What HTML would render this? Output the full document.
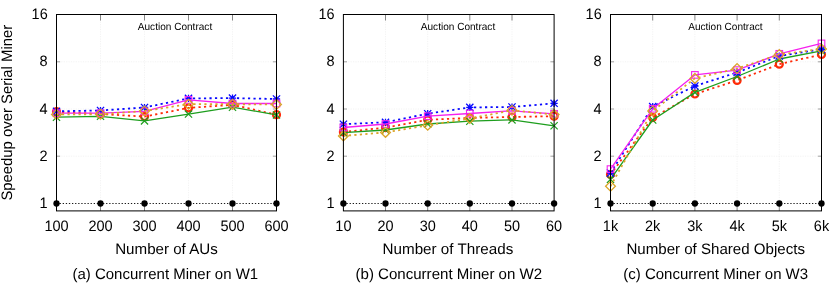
<!DOCTYPE html>
<html><head><meta charset="utf-8"><title>Speedup</title>
<style>
html,body{margin:0;padding:0;background:#fff;}
body{width:830px;height:283px;overflow:hidden;}
svg{display:block;will-change:transform;}
text{text-rendering:geometricPrecision;-webkit-font-smoothing:antialiased;font-family:"Liberation Sans",sans-serif;fill:#000;}
.t{font-size:15.1px;}
.s{font-size:10.3px;}
</style></head><body>
<svg width="830" height="283" viewBox="0 0 830 283">
<rect width="830" height="283" fill="#fff"/>
<text class="t" transform="translate(12.0,112.7) rotate(-90)" text-anchor="middle" textLength="175.7" lengthAdjust="spacingAndGlyphs">Speedup over Serial Miner</text>
<g>
<line x1="100.5" y1="14.5" x2="100.5" y2="210.9" stroke="#f2f2f2" stroke-width="0.9" stroke-dasharray="1.2 1.2"/>
<line x1="144.5" y1="14.5" x2="144.5" y2="210.9" stroke="#f2f2f2" stroke-width="0.9" stroke-dasharray="1.2 1.2"/>
<line x1="188.5" y1="14.5" x2="188.5" y2="210.9" stroke="#f2f2f2" stroke-width="0.9" stroke-dasharray="1.2 1.2"/>
<line x1="232.5" y1="14.5" x2="232.5" y2="210.9" stroke="#f2f2f2" stroke-width="0.9" stroke-dasharray="1.2 1.2"/>
<line x1="56.5" y1="156.2" x2="276.5" y2="156.2" stroke="#f2f2f2" stroke-width="0.9" stroke-dasharray="1.2 1.2"/>
<line x1="56.5" y1="109.0" x2="276.5" y2="109.0" stroke="#f2f2f2" stroke-width="0.9" stroke-dasharray="1.2 1.2"/>
<line x1="56.5" y1="61.8" x2="276.5" y2="61.8" stroke="#f2f2f2" stroke-width="0.9" stroke-dasharray="1.2 1.2"/>
<path d="M100.5 14.5v6M100.5 210.9v-6" stroke="#555" stroke-width="0.7"/>
<path d="M144.5 14.5v6M144.5 210.9v-6" stroke="#555" stroke-width="0.7"/>
<path d="M188.5 14.5v6M188.5 210.9v-6" stroke="#555" stroke-width="0.7"/>
<path d="M232.5 14.5v6M232.5 210.9v-6" stroke="#555" stroke-width="0.7"/>
<path d="M56.5 203.5h3.6M276.5 203.5h-3.6" stroke="#8a8a8a" stroke-width="0.8"/>
<path d="M56.5 156.2h3.6M276.5 156.2h-3.6" stroke="#8a8a8a" stroke-width="0.8"/>
<path d="M56.5 109.0h3.6M276.5 109.0h-3.6" stroke="#8a8a8a" stroke-width="0.8"/>
<path d="M56.5 61.8h3.6M276.5 61.8h-3.6" stroke="#8a8a8a" stroke-width="0.8"/>
<line x1="56.5" y1="203.5" x2="276.5" y2="203.5" stroke="#1a1a1a" stroke-width="1" stroke-dasharray="1.3 1.8"/>
<polyline points="56.5,111.7 100.5,114.0 144.5,116.6 188.5,107.9 232.5,104.8 276.5,114.7" fill="none" stroke="#ff2a08" stroke-width="1.8" stroke-dasharray="2.2 3.3"/>
<circle cx="56.5" cy="111.7" r="3.5" stroke="#ff2a08" stroke-width="2.2" fill="none"/>
<circle cx="100.5" cy="114.0" r="3.5" stroke="#ff2a08" stroke-width="2.2" fill="none"/>
<circle cx="144.5" cy="116.6" r="3.5" stroke="#ff2a08" stroke-width="2.2" fill="none"/>
<circle cx="188.5" cy="107.9" r="3.5" stroke="#ff2a08" stroke-width="2.2" fill="none"/>
<circle cx="232.5" cy="104.8" r="3.5" stroke="#ff2a08" stroke-width="2.2" fill="none"/>
<circle cx="276.5" cy="114.7" r="3.5" stroke="#ff2a08" stroke-width="2.2" fill="none"/>
<polyline points="56.5,117.2 100.5,116.3 144.5,120.9 188.5,114.1 232.5,107.2 276.5,114.9" fill="none" stroke="#1e9e1e" stroke-width="1.3" stroke-linejoin="round"/>
<path d="M52.9 113.6L60.1 120.8M52.9 120.8L60.1 113.6" stroke="#1e9e1e" stroke-width="1.2" fill="none"/>
<path d="M96.9 112.7L104.1 119.9M96.9 119.9L104.1 112.7" stroke="#1e9e1e" stroke-width="1.2" fill="none"/>
<path d="M140.9 117.3L148.1 124.5M140.9 124.5L148.1 117.3" stroke="#1e9e1e" stroke-width="1.2" fill="none"/>
<path d="M184.9 110.5L192.1 117.7M184.9 117.7L192.1 110.5" stroke="#1e9e1e" stroke-width="1.2" fill="none"/>
<path d="M228.9 103.6L236.1 110.8M228.9 110.8L236.1 103.6" stroke="#1e9e1e" stroke-width="1.2" fill="none"/>
<path d="M272.9 111.3L280.1 118.5M272.9 118.5L280.1 111.3" stroke="#1e9e1e" stroke-width="1.2" fill="none"/>
<polyline points="56.5,111.3 100.5,110.5 144.5,107.5 188.5,98.4 232.5,98.1 276.5,99.0" fill="none" stroke="#0808ff" stroke-width="1.8" stroke-dasharray="2.2 3.3"/>
<path d="M52.9 107.7L60.1 114.9M52.9 114.9L60.1 107.7M56.5 107.7L56.5 114.9M52.9 111.3L60.1 111.3" stroke="#0808ff" stroke-width="1.3" fill="none"/>
<path d="M96.9 106.9L104.1 114.1M96.9 114.1L104.1 106.9M100.5 106.9L100.5 114.1M96.9 110.5L104.1 110.5" stroke="#0808ff" stroke-width="1.3" fill="none"/>
<path d="M140.9 103.9L148.1 111.1M140.9 111.1L148.1 103.9M144.5 103.9L144.5 111.1M140.9 107.5L148.1 107.5" stroke="#0808ff" stroke-width="1.3" fill="none"/>
<path d="M184.9 94.8L192.1 102.0M184.9 102.0L192.1 94.8M188.5 94.8L188.5 102.0M184.9 98.4L192.1 98.4" stroke="#0808ff" stroke-width="1.3" fill="none"/>
<path d="M228.9 94.5L236.1 101.7M228.9 101.7L236.1 94.5M232.5 94.5L232.5 101.7M228.9 98.1L236.1 98.1" stroke="#0808ff" stroke-width="1.3" fill="none"/>
<path d="M272.9 95.4L280.1 102.6M272.9 102.6L280.1 95.4M276.5 95.4L276.5 102.6M272.9 99.0L280.1 99.0" stroke="#0808ff" stroke-width="1.3" fill="none"/>
<polyline points="56.5,113.2 100.5,113.2 144.5,111.3 188.5,99.9 232.5,103.5 276.5,103.5" fill="none" stroke="#f620ee" stroke-width="1.3" stroke-linejoin="round"/>
<rect x="53.2" y="109.9" width="6.6" height="6.6" stroke="#f620ee" stroke-width="1.1" fill="none"/>
<rect x="97.2" y="109.9" width="6.6" height="6.6" stroke="#f620ee" stroke-width="1.1" fill="none"/>
<rect x="141.2" y="108.0" width="6.6" height="6.6" stroke="#f620ee" stroke-width="1.1" fill="none"/>
<rect x="185.2" y="96.6" width="6.6" height="6.6" stroke="#f620ee" stroke-width="1.1" fill="none"/>
<rect x="229.2" y="100.2" width="6.6" height="6.6" stroke="#f620ee" stroke-width="1.1" fill="none"/>
<rect x="273.2" y="100.2" width="6.6" height="6.6" stroke="#f620ee" stroke-width="1.1" fill="none"/>
<polyline points="56.5,114.5 100.5,114.2 144.5,111.0 188.5,104.2 232.5,104.2 276.5,104.5" fill="none" stroke="#dba428" stroke-width="1.8" stroke-dasharray="2.2 3.3"/>
<path d="M56.5 109.6L61.4 114.5L56.5 119.4L51.6 114.5Z" stroke="#dba428" stroke-width="1.3" fill="none"/>
<path d="M100.5 109.3L105.4 114.2L100.5 119.1L95.6 114.2Z" stroke="#dba428" stroke-width="1.3" fill="none"/>
<path d="M144.5 106.1L149.4 111.0L144.5 115.9L139.6 111.0Z" stroke="#dba428" stroke-width="1.3" fill="none"/>
<path d="M188.5 99.3L193.4 104.2L188.5 109.1L183.6 104.2Z" stroke="#dba428" stroke-width="1.3" fill="none"/>
<path d="M232.5 99.3L237.4 104.2L232.5 109.1L227.6 104.2Z" stroke="#dba428" stroke-width="1.3" fill="none"/>
<path d="M276.5 99.6L281.4 104.5L276.5 109.4L271.6 104.5Z" stroke="#dba428" stroke-width="1.3" fill="none"/>
<rect x="56.5" y="14.5" width="220.0" height="196.4" fill="none" stroke="#000" stroke-width="1"/>
<circle cx="56.5" cy="203.5" r="3.15" fill="#000"/>
<circle cx="100.5" cy="203.5" r="3.15" fill="#000"/>
<circle cx="144.5" cy="203.5" r="3.15" fill="#000"/>
<circle cx="188.5" cy="203.5" r="3.15" fill="#000"/>
<circle cx="232.5" cy="203.5" r="3.15" fill="#000"/>
<circle cx="276.5" cy="203.5" r="3.15" fill="#000"/>
<text class="t" x="56.5" y="231.0" text-anchor="middle" textLength="24.2" lengthAdjust="spacingAndGlyphs">100</text>
<text class="t" x="100.5" y="231.0" text-anchor="middle" textLength="24.2" lengthAdjust="spacingAndGlyphs">200</text>
<text class="t" x="144.5" y="231.0" text-anchor="middle" textLength="24.2" lengthAdjust="spacingAndGlyphs">300</text>
<text class="t" x="188.5" y="231.0" text-anchor="middle" textLength="24.2" lengthAdjust="spacingAndGlyphs">400</text>
<text class="t" x="232.5" y="231.0" text-anchor="middle" textLength="24.2" lengthAdjust="spacingAndGlyphs">500</text>
<text class="t" x="276.5" y="231.0" text-anchor="middle" textLength="24.2" lengthAdjust="spacingAndGlyphs">600</text>
<text class="t" x="47.7" y="208.0" text-anchor="end" textLength="8.1" lengthAdjust="spacingAndGlyphs">1</text>
<text class="t" x="47.7" y="160.8" text-anchor="end" textLength="8.1" lengthAdjust="spacingAndGlyphs">2</text>
<text class="t" x="47.7" y="113.5" text-anchor="end" textLength="8.1" lengthAdjust="spacingAndGlyphs">4</text>
<text class="t" x="47.7" y="66.2" text-anchor="end" textLength="8.1" lengthAdjust="spacingAndGlyphs">8</text>
<text class="t" x="47.7" y="19.0" text-anchor="end" textLength="16.1" lengthAdjust="spacingAndGlyphs">16</text>
<text class="t" x="166.5" y="253.5" text-anchor="middle" textLength="102.6" lengthAdjust="spacingAndGlyphs">Number of AUs</text>
<text class="t" x="165.3" y="278.5" text-anchor="middle" textLength="185.6" lengthAdjust="spacingAndGlyphs">(a) Concurrent Miner on W1</text>
<text class="s" x="175.0" y="29.8" text-anchor="middle" textLength="74.4" lengthAdjust="spacingAndGlyphs">Auction Contract</text>
</g>
<g>
<line x1="385.5" y1="14.5" x2="385.5" y2="210.9" stroke="#f2f2f2" stroke-width="0.9" stroke-dasharray="1.2 1.2"/>
<line x1="427.7" y1="14.5" x2="427.7" y2="210.9" stroke="#f2f2f2" stroke-width="0.9" stroke-dasharray="1.2 1.2"/>
<line x1="469.8" y1="14.5" x2="469.8" y2="210.9" stroke="#f2f2f2" stroke-width="0.9" stroke-dasharray="1.2 1.2"/>
<line x1="512.0" y1="14.5" x2="512.0" y2="210.9" stroke="#f2f2f2" stroke-width="0.9" stroke-dasharray="1.2 1.2"/>
<line x1="343.4" y1="156.2" x2="554.1" y2="156.2" stroke="#f2f2f2" stroke-width="0.9" stroke-dasharray="1.2 1.2"/>
<line x1="343.4" y1="109.0" x2="554.1" y2="109.0" stroke="#f2f2f2" stroke-width="0.9" stroke-dasharray="1.2 1.2"/>
<line x1="343.4" y1="61.8" x2="554.1" y2="61.8" stroke="#f2f2f2" stroke-width="0.9" stroke-dasharray="1.2 1.2"/>
<path d="M385.5 14.5v6M385.5 210.9v-6" stroke="#555" stroke-width="0.7"/>
<path d="M427.7 14.5v6M427.7 210.9v-6" stroke="#555" stroke-width="0.7"/>
<path d="M469.8 14.5v6M469.8 210.9v-6" stroke="#555" stroke-width="0.7"/>
<path d="M512.0 14.5v6M512.0 210.9v-6" stroke="#555" stroke-width="0.7"/>
<path d="M343.4 203.5h3.6M554.1 203.5h-3.6" stroke="#8a8a8a" stroke-width="0.8"/>
<path d="M343.4 156.2h3.6M554.1 156.2h-3.6" stroke="#8a8a8a" stroke-width="0.8"/>
<path d="M343.4 109.0h3.6M554.1 109.0h-3.6" stroke="#8a8a8a" stroke-width="0.8"/>
<path d="M343.4 61.8h3.6M554.1 61.8h-3.6" stroke="#8a8a8a" stroke-width="0.8"/>
<line x1="343.4" y1="203.5" x2="554.1" y2="203.5" stroke="#1a1a1a" stroke-width="1" stroke-dasharray="1.3 1.8"/>
<polyline points="343.4,132.0 385.5,127.6 427.7,119.8 469.8,117.9 512.0,117.0 554.1,116.2" fill="none" stroke="#ff2a08" stroke-width="1.8" stroke-dasharray="2.2 3.3"/>
<circle cx="343.4" cy="132.0" r="3.5" stroke="#ff2a08" stroke-width="2.2" fill="none"/>
<circle cx="385.5" cy="127.6" r="3.5" stroke="#ff2a08" stroke-width="2.2" fill="none"/>
<circle cx="427.7" cy="119.8" r="3.5" stroke="#ff2a08" stroke-width="2.2" fill="none"/>
<circle cx="469.8" cy="117.9" r="3.5" stroke="#ff2a08" stroke-width="2.2" fill="none"/>
<circle cx="512.0" cy="117.0" r="3.5" stroke="#ff2a08" stroke-width="2.2" fill="none"/>
<circle cx="554.1" cy="116.2" r="3.5" stroke="#ff2a08" stroke-width="2.2" fill="none"/>
<polyline points="343.4,132.7 385.5,130.0 427.7,124.0 469.8,121.2 512.0,119.9 554.1,125.8" fill="none" stroke="#1e9e1e" stroke-width="1.3" stroke-linejoin="round"/>
<path d="M339.8 129.1L347.0 136.3M339.8 136.3L347.0 129.1" stroke="#1e9e1e" stroke-width="1.2" fill="none"/>
<path d="M381.9 126.4L389.1 133.6M381.9 133.6L389.1 126.4" stroke="#1e9e1e" stroke-width="1.2" fill="none"/>
<path d="M424.1 120.4L431.3 127.6M424.1 127.6L431.3 120.4" stroke="#1e9e1e" stroke-width="1.2" fill="none"/>
<path d="M466.2 117.6L473.4 124.8M466.2 124.8L473.4 117.6" stroke="#1e9e1e" stroke-width="1.2" fill="none"/>
<path d="M508.4 116.3L515.6 123.5M508.4 123.5L515.6 116.3" stroke="#1e9e1e" stroke-width="1.2" fill="none"/>
<path d="M550.5 122.2L557.7 129.4M550.5 129.4L557.7 122.2" stroke="#1e9e1e" stroke-width="1.2" fill="none"/>
<polyline points="343.4,124.2 385.5,122.3 427.7,113.7 469.8,107.4 512.0,107.0 554.1,103.3" fill="none" stroke="#0808ff" stroke-width="1.8" stroke-dasharray="2.2 3.3"/>
<path d="M339.8 120.6L347.0 127.8M339.8 127.8L347.0 120.6M343.4 120.6L343.4 127.8M339.8 124.2L347.0 124.2" stroke="#0808ff" stroke-width="1.3" fill="none"/>
<path d="M381.9 118.7L389.1 125.9M381.9 125.9L389.1 118.7M385.5 118.7L385.5 125.9M381.9 122.3L389.1 122.3" stroke="#0808ff" stroke-width="1.3" fill="none"/>
<path d="M424.1 110.1L431.3 117.3M424.1 117.3L431.3 110.1M427.7 110.1L427.7 117.3M424.1 113.7L431.3 113.7" stroke="#0808ff" stroke-width="1.3" fill="none"/>
<path d="M466.2 103.8L473.4 111.0M466.2 111.0L473.4 103.8M469.8 103.8L469.8 111.0M466.2 107.4L473.4 107.4" stroke="#0808ff" stroke-width="1.3" fill="none"/>
<path d="M508.4 103.4L515.6 110.6M508.4 110.6L515.6 103.4M512.0 103.4L512.0 110.6M508.4 107.0L515.6 107.0" stroke="#0808ff" stroke-width="1.3" fill="none"/>
<path d="M550.5 99.7L557.7 106.9M550.5 106.9L557.7 99.7M554.1 99.7L554.1 106.9M550.5 103.3L557.7 103.3" stroke="#0808ff" stroke-width="1.3" fill="none"/>
<polyline points="343.4,127.5 385.5,124.0 427.7,116.2 469.8,113.5 512.0,110.8 554.1,113.8" fill="none" stroke="#f620ee" stroke-width="1.3" stroke-linejoin="round"/>
<rect x="340.1" y="124.2" width="6.6" height="6.6" stroke="#f620ee" stroke-width="1.1" fill="none"/>
<rect x="382.2" y="120.7" width="6.6" height="6.6" stroke="#f620ee" stroke-width="1.1" fill="none"/>
<rect x="424.4" y="112.9" width="6.6" height="6.6" stroke="#f620ee" stroke-width="1.1" fill="none"/>
<rect x="466.5" y="110.2" width="6.6" height="6.6" stroke="#f620ee" stroke-width="1.1" fill="none"/>
<rect x="508.7" y="107.5" width="6.6" height="6.6" stroke="#f620ee" stroke-width="1.1" fill="none"/>
<rect x="550.8" y="110.5" width="6.6" height="6.6" stroke="#f620ee" stroke-width="1.1" fill="none"/>
<polyline points="343.4,135.9 385.5,132.4 427.7,125.3 469.8,118.5 512.0,110.3 554.1,114.6" fill="none" stroke="#dba428" stroke-width="1.8" stroke-dasharray="2.2 3.3"/>
<path d="M343.4 131.0L348.3 135.9L343.4 140.8L338.5 135.9Z" stroke="#dba428" stroke-width="1.3" fill="none"/>
<path d="M385.5 127.5L390.4 132.4L385.5 137.3L380.6 132.4Z" stroke="#dba428" stroke-width="1.3" fill="none"/>
<path d="M427.7 120.4L432.6 125.3L427.7 130.2L422.8 125.3Z" stroke="#dba428" stroke-width="1.3" fill="none"/>
<path d="M469.8 113.6L474.7 118.5L469.8 123.4L464.9 118.5Z" stroke="#dba428" stroke-width="1.3" fill="none"/>
<path d="M512.0 105.4L516.9 110.3L512.0 115.2L507.1 110.3Z" stroke="#dba428" stroke-width="1.3" fill="none"/>
<path d="M554.1 109.7L559.0 114.6L554.1 119.5L549.2 114.6Z" stroke="#dba428" stroke-width="1.3" fill="none"/>
<rect x="343.4" y="14.5" width="210.7" height="196.4" fill="none" stroke="#000" stroke-width="1"/>
<circle cx="343.4" cy="203.5" r="3.15" fill="#000"/>
<circle cx="385.5" cy="203.5" r="3.15" fill="#000"/>
<circle cx="427.7" cy="203.5" r="3.15" fill="#000"/>
<circle cx="469.8" cy="203.5" r="3.15" fill="#000"/>
<circle cx="512.0" cy="203.5" r="3.15" fill="#000"/>
<circle cx="554.1" cy="203.5" r="3.15" fill="#000"/>
<text class="t" x="343.4" y="231.0" text-anchor="middle" textLength="16.1" lengthAdjust="spacingAndGlyphs">10</text>
<text class="t" x="385.5" y="231.0" text-anchor="middle" textLength="16.1" lengthAdjust="spacingAndGlyphs">20</text>
<text class="t" x="427.7" y="231.0" text-anchor="middle" textLength="16.1" lengthAdjust="spacingAndGlyphs">30</text>
<text class="t" x="469.8" y="231.0" text-anchor="middle" textLength="16.1" lengthAdjust="spacingAndGlyphs">40</text>
<text class="t" x="512.0" y="231.0" text-anchor="middle" textLength="16.1" lengthAdjust="spacingAndGlyphs">50</text>
<text class="t" x="554.1" y="231.0" text-anchor="middle" textLength="16.1" lengthAdjust="spacingAndGlyphs">60</text>
<text class="t" x="334.6" y="208.0" text-anchor="end" textLength="8.1" lengthAdjust="spacingAndGlyphs">1</text>
<text class="t" x="334.6" y="160.8" text-anchor="end" textLength="8.1" lengthAdjust="spacingAndGlyphs">2</text>
<text class="t" x="334.6" y="113.5" text-anchor="end" textLength="8.1" lengthAdjust="spacingAndGlyphs">4</text>
<text class="t" x="334.6" y="66.2" text-anchor="end" textLength="8.1" lengthAdjust="spacingAndGlyphs">8</text>
<text class="t" x="334.6" y="19.0" text-anchor="end" textLength="16.1" lengthAdjust="spacingAndGlyphs">16</text>
<text class="t" x="447.9" y="253.5" text-anchor="middle" textLength="130.7" lengthAdjust="spacingAndGlyphs">Number of Threads</text>
<text class="t" x="448.8" y="278.5" text-anchor="middle" textLength="186.6" lengthAdjust="spacingAndGlyphs">(b) Concurrent Miner on W2</text>
<text class="s" x="458.0" y="29.8" text-anchor="middle" textLength="74.4" lengthAdjust="spacingAndGlyphs">Auction Contract</text>
</g>
<g>
<line x1="652.7" y1="14.5" x2="652.7" y2="210.9" stroke="#f2f2f2" stroke-width="0.9" stroke-dasharray="1.2 1.2"/>
<line x1="694.9" y1="14.5" x2="694.9" y2="210.9" stroke="#f2f2f2" stroke-width="0.9" stroke-dasharray="1.2 1.2"/>
<line x1="737.1" y1="14.5" x2="737.1" y2="210.9" stroke="#f2f2f2" stroke-width="0.9" stroke-dasharray="1.2 1.2"/>
<line x1="779.3" y1="14.5" x2="779.3" y2="210.9" stroke="#f2f2f2" stroke-width="0.9" stroke-dasharray="1.2 1.2"/>
<line x1="610.5" y1="156.2" x2="821.5" y2="156.2" stroke="#f2f2f2" stroke-width="0.9" stroke-dasharray="1.2 1.2"/>
<line x1="610.5" y1="109.0" x2="821.5" y2="109.0" stroke="#f2f2f2" stroke-width="0.9" stroke-dasharray="1.2 1.2"/>
<line x1="610.5" y1="61.8" x2="821.5" y2="61.8" stroke="#f2f2f2" stroke-width="0.9" stroke-dasharray="1.2 1.2"/>
<path d="M652.7 14.5v6M652.7 210.9v-6" stroke="#555" stroke-width="0.7"/>
<path d="M694.9 14.5v6M694.9 210.9v-6" stroke="#555" stroke-width="0.7"/>
<path d="M737.1 14.5v6M737.1 210.9v-6" stroke="#555" stroke-width="0.7"/>
<path d="M779.3 14.5v6M779.3 210.9v-6" stroke="#555" stroke-width="0.7"/>
<path d="M610.5 203.5h3.6M821.5 203.5h-3.6" stroke="#8a8a8a" stroke-width="0.8"/>
<path d="M610.5 156.2h3.6M821.5 156.2h-3.6" stroke="#8a8a8a" stroke-width="0.8"/>
<path d="M610.5 109.0h3.6M821.5 109.0h-3.6" stroke="#8a8a8a" stroke-width="0.8"/>
<path d="M610.5 61.8h3.6M821.5 61.8h-3.6" stroke="#8a8a8a" stroke-width="0.8"/>
<line x1="610.5" y1="203.5" x2="821.5" y2="203.5" stroke="#1a1a1a" stroke-width="1" stroke-dasharray="1.3 1.8"/>
<polyline points="610.5,174.6 652.7,117.6 694.9,94.0 737.1,80.4 779.3,64.2 821.5,54.5" fill="none" stroke="#ff2a08" stroke-width="1.8" stroke-dasharray="2.2 3.3"/>
<circle cx="610.5" cy="174.6" r="3.5" stroke="#ff2a08" stroke-width="2.2" fill="none"/>
<circle cx="652.7" cy="117.6" r="3.5" stroke="#ff2a08" stroke-width="2.2" fill="none"/>
<circle cx="694.9" cy="94.0" r="3.5" stroke="#ff2a08" stroke-width="2.2" fill="none"/>
<circle cx="737.1" cy="80.4" r="3.5" stroke="#ff2a08" stroke-width="2.2" fill="none"/>
<circle cx="779.3" cy="64.2" r="3.5" stroke="#ff2a08" stroke-width="2.2" fill="none"/>
<circle cx="821.5" cy="54.5" r="3.5" stroke="#ff2a08" stroke-width="2.2" fill="none"/>
<polyline points="610.5,179.4 652.7,120.0 694.9,92.4 737.1,76.5 779.3,59.0 821.5,50.8" fill="none" stroke="#1e9e1e" stroke-width="1.3" stroke-linejoin="round"/>
<path d="M606.9 175.8L614.1 183.0M606.9 183.0L614.1 175.8" stroke="#1e9e1e" stroke-width="1.2" fill="none"/>
<path d="M649.1 116.4L656.3 123.6M649.1 123.6L656.3 116.4" stroke="#1e9e1e" stroke-width="1.2" fill="none"/>
<path d="M691.3 88.8L698.5 96.0M691.3 96.0L698.5 88.8" stroke="#1e9e1e" stroke-width="1.2" fill="none"/>
<path d="M733.5 72.9L740.7 80.1M733.5 80.1L740.7 72.9" stroke="#1e9e1e" stroke-width="1.2" fill="none"/>
<path d="M775.7 55.4L782.9 62.6M775.7 62.6L782.9 55.4" stroke="#1e9e1e" stroke-width="1.2" fill="none"/>
<path d="M817.9 47.2L825.1 54.4M817.9 54.4L825.1 47.2" stroke="#1e9e1e" stroke-width="1.2" fill="none"/>
<polyline points="610.5,173.0 652.7,106.6 694.9,86.0 737.1,72.5 779.3,56.0 821.5,49.3" fill="none" stroke="#0808ff" stroke-width="1.8" stroke-dasharray="2.2 3.3"/>
<path d="M606.9 169.4L614.1 176.6M606.9 176.6L614.1 169.4M610.5 169.4L610.5 176.6M606.9 173.0L614.1 173.0" stroke="#0808ff" stroke-width="1.3" fill="none"/>
<path d="M649.1 103.0L656.3 110.2M649.1 110.2L656.3 103.0M652.7 103.0L652.7 110.2M649.1 106.6L656.3 106.6" stroke="#0808ff" stroke-width="1.3" fill="none"/>
<path d="M691.3 82.4L698.5 89.6M691.3 89.6L698.5 82.4M694.9 82.4L694.9 89.6M691.3 86.0L698.5 86.0" stroke="#0808ff" stroke-width="1.3" fill="none"/>
<path d="M733.5 68.9L740.7 76.1M733.5 76.1L740.7 68.9M737.1 68.9L737.1 76.1M733.5 72.5L740.7 72.5" stroke="#0808ff" stroke-width="1.3" fill="none"/>
<path d="M775.7 52.4L782.9 59.6M775.7 59.6L782.9 52.4M779.3 52.4L779.3 59.6M775.7 56.0L782.9 56.0" stroke="#0808ff" stroke-width="1.3" fill="none"/>
<path d="M817.9 45.7L825.1 52.9M817.9 52.9L825.1 45.7M821.5 45.7L821.5 52.9M817.9 49.3L825.1 49.3" stroke="#0808ff" stroke-width="1.3" fill="none"/>
<polyline points="610.5,169.1 652.7,108.8 694.9,74.9 737.1,70.1 779.3,53.8 821.5,43.4" fill="none" stroke="#f620ee" stroke-width="1.3" stroke-linejoin="round"/>
<rect x="607.2" y="165.8" width="6.6" height="6.6" stroke="#f620ee" stroke-width="1.1" fill="none"/>
<rect x="649.4" y="105.5" width="6.6" height="6.6" stroke="#f620ee" stroke-width="1.1" fill="none"/>
<rect x="691.6" y="71.6" width="6.6" height="6.6" stroke="#f620ee" stroke-width="1.1" fill="none"/>
<rect x="733.8" y="66.8" width="6.6" height="6.6" stroke="#f620ee" stroke-width="1.1" fill="none"/>
<rect x="776.0" y="50.5" width="6.6" height="6.6" stroke="#f620ee" stroke-width="1.1" fill="none"/>
<rect x="818.2" y="40.1" width="6.6" height="6.6" stroke="#f620ee" stroke-width="1.1" fill="none"/>
<polyline points="610.5,186.2 652.7,111.0 694.9,78.4 737.1,68.5 779.3,54.5 821.5,49.0" fill="none" stroke="#dba428" stroke-width="1.8" stroke-dasharray="2.2 3.3"/>
<path d="M610.5 181.3L615.4 186.2L610.5 191.1L605.6 186.2Z" stroke="#dba428" stroke-width="1.3" fill="none"/>
<path d="M652.7 106.1L657.6 111.0L652.7 115.9L647.8 111.0Z" stroke="#dba428" stroke-width="1.3" fill="none"/>
<path d="M694.9 73.5L699.8 78.4L694.9 83.3L690.0 78.4Z" stroke="#dba428" stroke-width="1.3" fill="none"/>
<path d="M737.1 63.6L742.0 68.5L737.1 73.4L732.2 68.5Z" stroke="#dba428" stroke-width="1.3" fill="none"/>
<path d="M779.3 49.6L784.2 54.5L779.3 59.4L774.4 54.5Z" stroke="#dba428" stroke-width="1.3" fill="none"/>
<path d="M821.5 44.1L826.4 49.0L821.5 53.9L816.6 49.0Z" stroke="#dba428" stroke-width="1.3" fill="none"/>
<rect x="610.5" y="14.5" width="211.0" height="196.4" fill="none" stroke="#000" stroke-width="1"/>
<circle cx="610.5" cy="203.5" r="3.15" fill="#000"/>
<circle cx="652.7" cy="203.5" r="3.15" fill="#000"/>
<circle cx="694.9" cy="203.5" r="3.15" fill="#000"/>
<circle cx="737.1" cy="203.5" r="3.15" fill="#000"/>
<circle cx="779.3" cy="203.5" r="3.15" fill="#000"/>
<circle cx="821.5" cy="203.5" r="3.15" fill="#000"/>
<text class="t" x="610.5" y="231.0" text-anchor="middle" textLength="15.3" lengthAdjust="spacingAndGlyphs">1k</text>
<text class="t" x="652.7" y="231.0" text-anchor="middle" textLength="15.3" lengthAdjust="spacingAndGlyphs">2k</text>
<text class="t" x="694.9" y="231.0" text-anchor="middle" textLength="15.3" lengthAdjust="spacingAndGlyphs">3k</text>
<text class="t" x="737.1" y="231.0" text-anchor="middle" textLength="15.3" lengthAdjust="spacingAndGlyphs">4k</text>
<text class="t" x="779.3" y="231.0" text-anchor="middle" textLength="15.3" lengthAdjust="spacingAndGlyphs">5k</text>
<text class="t" x="821.5" y="231.0" text-anchor="middle" textLength="15.3" lengthAdjust="spacingAndGlyphs">6k</text>
<text class="t" x="601.7" y="208.0" text-anchor="end" textLength="8.1" lengthAdjust="spacingAndGlyphs">1</text>
<text class="t" x="601.7" y="160.8" text-anchor="end" textLength="8.1" lengthAdjust="spacingAndGlyphs">2</text>
<text class="t" x="601.7" y="113.5" text-anchor="end" textLength="8.1" lengthAdjust="spacingAndGlyphs">4</text>
<text class="t" x="601.7" y="66.2" text-anchor="end" textLength="8.1" lengthAdjust="spacingAndGlyphs">8</text>
<text class="t" x="601.7" y="19.0" text-anchor="end" textLength="16.1" lengthAdjust="spacingAndGlyphs">16</text>
<text class="t" x="715.7" y="253.5" text-anchor="middle" textLength="178.6" lengthAdjust="spacingAndGlyphs">Number of Shared Objects</text>
<text class="t" x="715.7" y="278.5" text-anchor="middle" textLength="184.8" lengthAdjust="spacingAndGlyphs">(c) Concurrent Miner on W3</text>
<text class="s" x="725.4" y="29.8" text-anchor="middle" textLength="74.4" lengthAdjust="spacingAndGlyphs">Auction Contract</text>
</g>
</svg>
</body></html>
